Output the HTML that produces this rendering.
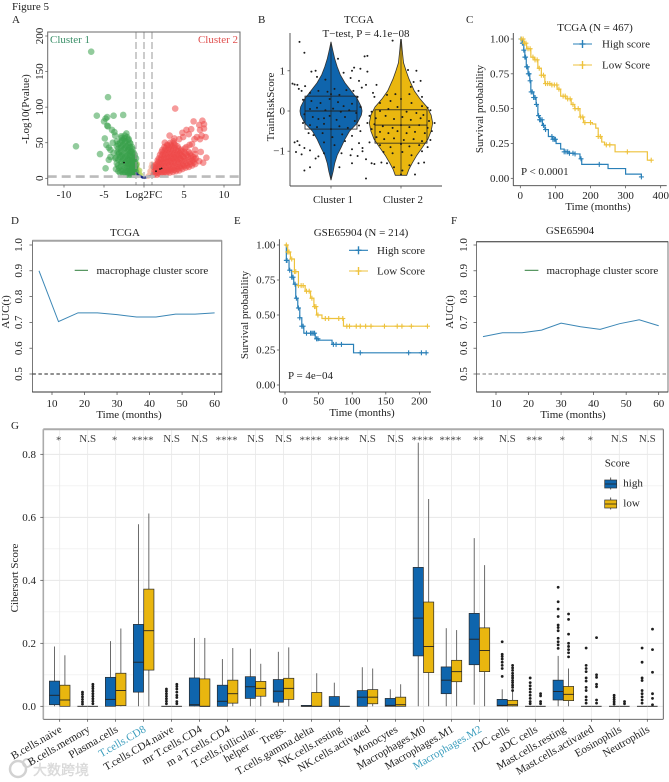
<!DOCTYPE html>
<html lang="en">
<head>
<meta charset="utf-8">
<title>Figure 5</title>
<style>
html,body{margin:0;padding:0;background:#fff;}
svg{display:block;font-family:"Liberation Serif","Noto Serif CJK SC",serif;font-size:11px;fill:#222;filter:blur(0.3px);}
</style>
</head>
<body>
<svg id="fig" xmlns="http://www.w3.org/2000/svg" width="669" height="782" viewBox="0 0 669 782">
<rect x="0" y="0" width="669" height="782" fill="#fff"/>
<text x="12" y="10">Figure 5</text>
<text x="12" y="23">A</text>
<text x="258" y="23">B</text>
<text x="466" y="23">C</text>
<text x="11" y="224">D</text>
<text x="234" y="224">E</text>
<text x="451" y="224">F</text>
<text x="11" y="429">G</text>

<text transform="translate(29,109) rotate(-90)" text-anchor="middle">-Log10(Pvalue)</text>
<text x="50" y="43" font-size="11" fill="#3a8f68">Cluster 1</text>
<text x="238" y="43" font-size="11" fill="#e0504f" text-anchor="end">Cluster 2</text>

<text x="359" y="23" text-anchor="middle">TCGA</text>
<text x="366" y="37" text-anchor="middle">T−test, P = 4.1e−08</text>
<text transform="translate(274,107) rotate(-90)" text-anchor="middle">TrainRiskScore</text>

<text x="595" y="31" text-anchor="middle">TCGA (N = 467)</text>
<text transform="translate(483,109) rotate(-90)" text-anchor="middle">Survival probability</text>
<text x="598" y="210" text-anchor="middle">Time (months)</text>
<text x="521" y="175">P &lt; 0.0001</text>

<text x="125" y="236" text-anchor="middle">TCGA</text>
<text transform="translate(9,312) rotate(-90)" text-anchor="middle">AUC(t)</text>
<text x="129" y="418" text-anchor="middle">Time (months)</text>
<text x="96.5" y="274">macrophage cluster score</text>

<text x="361" y="236" text-anchor="middle">GSE65904 (N = 214)</text>
<text transform="translate(248,315) rotate(-90)" text-anchor="middle">Survival probability</text>
<text x="362" y="416" text-anchor="middle">Time (months)</text>
<text x="288" y="379">P = 4e−04</text>

<text x="570" y="234" text-anchor="middle">GSE65904</text>
<text transform="translate(453,312) rotate(-90)" text-anchor="middle">AUC(t)</text>
<text x="573" y="418" text-anchor="middle">Time (months)</text>
<text x="546.5" y="274">macrophage cluster score</text>

<text transform="translate(18,578) rotate(-90)" text-anchor="middle">Cibersort Score</text>

<g opacity="0.75">
  <circle cx="18" cy="769" r="8" fill="none" stroke="#c4c4c4" stroke-width="2.5"/>
  <circle cx="27" cy="763" r="4" fill="none" stroke="#c4c4c4" stroke-width="2"/>
  <text x="33" y="775" font-size="14" font-family="'Liberation Sans','Noto Sans CJK SC',sans-serif" fill="#d6d6d6" stroke="#bdbdbd" stroke-width="0.3">大数跨境</text>
</g>
<g id="marks"></g>
</svg>
<script>
// ---------- Panel A data: volcano plot (log2FC, -log10 p)
const volcanoGreen = [[-6.6,178],[-4.5,114],[-5.9,88],[-4.8,84],[-4.6,86],[-5.0,80],[-3.8,88],[-2.6,89],[-4.6,74],[-4.5,73],[-4.0,68],[-3.7,65],[-3.6,60],[-4.9,56],[-8.5,45],[-4.7,47],[-4.4,43],[-4.2,40],[-5.5,34],[-3.9,50],[-3.4,52],[-4.4,26],[-4.8,14],[-4.2,30],[-3.8,36],[-3.6,28],
[-3.5,13],[-3.4,21],[-3.5,29],[-3.3,37],[-3.4,45],[-3.0,8],[-3.1,15],[-2.9,23],[-3.0,30],[-3.1,36],[-2.9,43],[-3.0,50],[-2.8,57],[-2.6,6],[-2.7,12],[-2.5,20],[-2.6,27],[-2.7,33],[-2.5,41],[-2.6,47],[-2.7,54],[-2.4,60],[-2.2,5],[-2.3,11],[-2.1,17],[-2.2,24],[-2.3,31],[-2.1,38],[-2.2,45],[-2.3,52],[-2.1,58],[-2.2,63],[-1.9,5],[-2.0,10],[-1.8,16],[-1.9,22],[-2.0,28],[-1.8,35],[-1.9,42],[-1.7,49],[-1.9,55],[-1.6,5],[-1.7,10],[-1.5,15],[-1.6,20],[-1.5,26],[-1.7,32],[-1.6,38],[-1.5,44],[-1.3,5],[-1.4,9],[-1.2,14],[-1.3,19],[-1.4,24],[-1.2,30],[-1.3,36],[-1.1,5],[-1.0,9],[-1.1,13],[-1.0,18],[-1.1,23],[-1.0,28],
[-3.2,10],[-3.25,18],[-3.2,26],[-3.15,34],[-3.2,42],[-3.25,48],[-2.8,10],[-2.85,17],[-2.75,24],[-2.8,31],[-2.85,38],[-2.8,45],[-2.75,52],[-2.85,59],[-2.4,8],[-2.45,15],[-2.35,22],[-2.4,29],[-2.45,36],[-2.35,43],[-2.4,50],[-2.45,56],[-2.0,8],[-2.05,14],[-2.0,20],[-1.95,26],[-2.05,33],[-2.0,40],[-1.95,47],[-2.0,54],[-1.75,8],[-1.8,13],[-1.7,19],[-1.75,25],[-1.8,31],[-1.7,37],[-1.75,44],[-1.8,50],[-1.45,8],[-1.5,12],[-1.4,17],[-1.45,23],[-1.5,29],[-1.4,35],[-1.45,41],[-1.2,7],[-1.25,11],[-1.15,16],[-1.2,21],[-1.25,27],[-1.15,33]];
const volcanoLightGreen = [[-0.9,7],[-0.8,11],[-0.9,15],[-0.85,20],[-0.7,5],[-0.7,9],[-0.6,6],[-0.55,11],[-0.45,5]];
const volcanoRed = [[3.9,98],[6.2,80],[7.3,81],[7.5,76],[6.9,75],[7.0,68],[7.5,70],[5.3,68],[5.9,69],[4.8,64],[5.6,62],[4.9,58],[7.2,60],[7.7,58],[6.6,58],[3.2,60],[3.8,56],[4.4,55],[6.3,55],[7.0,55],[2.6,50],[7.8,29],[7.4,22],[6.9,24],[6.5,28],[7.1,37],[6.4,40],[5.7,47],[6.0,48],[5.3,44],
[1.2,5],[1.3,10],[1.2,16],[1.6,5],[1.7,10],[1.5,15],[1.6,20],[1.7,25],[2.0,6],[2.1,11],[1.9,16],[2.0,22],[2.1,28],[2.0,33],[2.4,6],[2.5,11],[2.3,17],[2.4,23],[2.5,29],[2.4,35],[2.3,40],[2.8,7],[2.9,12],[2.7,18],[2.8,24],[2.9,30],[2.8,36],[2.7,42],[2.9,47],[3.2,8],[3.3,13],[3.1,19],[3.2,25],[3.3,31],[3.2,37],[3.1,43],[3.3,50],[3.6,9],[3.7,15],[3.5,21],[3.6,27],[3.7,33],[3.6,39],[3.5,45],[3.7,52],[4.0,10],[4.1,16],[3.9,22],[4.0,28],[4.1,34],[4.0,40],[3.9,47],[4.4,11],[4.5,17],[4.3,23],[4.4,29],[4.5,35],[4.3,42],[4.8,13],[4.9,19],[4.7,25],[4.8,31],[4.7,38],[5.2,15],[5.3,21],[5.1,28],[5.2,35],[5.1,42],[5.6,16],[5.7,23],[5.5,30],[5.6,37],[6.0,18],[6.1,25],[5.9,32],[6.4,20],[6.3,27],[6.4,34],
[1.4,7],[1.45,13],[1.35,18],[1.8,8],[1.85,13],[1.75,18],[1.8,23],[1.85,28],[2.2,8],[2.25,14],[2.15,20],[2.2,26],[2.25,32],[2.2,37],[2.6,9],[2.65,15],[2.55,21],[2.6,27],[2.65,33],[2.6,39],[2.55,44],[3.0,10],[3.05,16],[2.95,22],[3.0,28],[3.05,34],[3.0,40],[2.95,46],[3.4,11],[3.45,17],[3.35,23],[3.4,29],[3.45,35],[3.4,41],[3.35,47],[3.8,12],[3.85,18],[3.75,24],[3.8,30],[3.85,36],[3.8,43],[3.75,49],[4.2,13],[4.25,20],[4.15,26],[4.2,32],[4.25,38],[4.2,45],[4.6,15],[4.65,21],[4.55,27],[4.6,33],[4.65,40],[5.0,17],[5.05,24],[4.95,30],[5.0,37],[5.4,18],[5.45,25],[5.35,33],[5.8,20],[5.85,28],[5.75,35],[6.2,22],[6.15,30]];
const volcanoPink = [[0.5,3],[0.7,5],[0.8,8],[0.9,12],[0.9,16],[0.75,10],[1.0,20]];
const volcanoBlue = [[-0.95,7],[-0.8,5],[-0.7,4],[-0.55,3.5],[-0.4,2.5],[-0.25,1.5],[-0.1,0.8],[0.05,0.6],[0.2,1.2],[0.35,2],[0.55,2.6],[0.75,3]];
const volcanoBlack = [[-2.5,22],[1.5,10],[2.0,13],[2.2,14]];
const volcanoXTicks = [-10,-5,5,10];
const volcanoYTicks = [0,50,100,150,200];

// ---------- Panel B data: violin plots
const violin1Values = [1.72,1.5,1.3,1.1,0.9,0.7,0.5,0.3,0.1,0,-0.1,-0.3,-0.5,-0.7,-0.9,-1.1,-1.3,-1.5,-1.72];
const violin1Density = [0,0.06,0.12,0.2,0.3,0.45,0.65,0.85,0.98,1,0.98,0.85,0.6,0.45,0.33,0.2,0.12,0.07,0];
const violin2Values = [1.78,1.5,1.2,1.0,0.8,0.5,0.3,0.1,-0.1,-0.3,-0.5,-0.7,-0.9,-1.1,-1.3,-1.45,-1.6];
const violin2Density = [0.01,0.04,0.08,0.16,0.25,0.42,0.6,0.82,0.95,1,0.95,0.85,0.68,0.5,0.35,0.25,0.18];
const violin1Quartiles = [-0.45,0,0.37];
const violin2Quartiles = [-0.8,-0.35,0.03];
const violin1Jitter = [[-0.45,1.72],[-0.38,1.45],[0.1,1.3],[0.52,1.37],[0.48,1.36],[0.42,1.05],[0.33,1.08],[0.3,1.0],[0.18,0.95],[-0.22,1.0],[-0.28,0.98],[-0.2,0.85],[-0.08,0.78],[0.28,0.82],[0.4,0.75],[0.52,0.98],[-0.55,0.68],[-0.52,0.66],[-0.48,0.65],[-0.46,0.55],[-0.42,0.5],[-0.37,0.62],[-0.3,0.45],[-0.18,0.5],[-0.05,0.48],[0.0,0.42],[0.05,0.55],[0.12,0.4],[0.22,0.52],[0.32,0.5],[0.44,0.58],[0.38,0.35],[-0.4,0.28],[-0.28,0.25],[-0.15,0.2],[-0.02,0.3],[0.1,0.22],[0.18,0.12],[0.3,0.18],[0.42,0.1],[-0.3,0.05],[-0.2,0.08],[-0.08,0.02],[0.03,0.06],[0.14,-0.02],[0.26,0.02],[0.36,-0.05],[-0.38,-0.08],[-0.26,-0.15],[-0.18,-0.2],[-0.1,-0.18],[-0.02,-0.12],[0.08,-0.22],[0.2,-0.15],[0.34,-0.25],[-0.4,-0.3],[-0.3,-0.35],[-0.2,-0.4],[-0.1,-0.32],[0.0,-0.45],[0.12,-0.38],[0.24,-0.42],[0.4,-0.36],[-0.32,-0.55],[-0.25,-0.6],[-0.12,-0.55],[0.02,-0.65],[0.16,-0.58],[0.3,-0.62],[0.42,-0.5],[-0.48,-0.75],[-0.52,-0.78],[-0.45,-0.85],[-0.38,-0.92],[-0.3,-0.98],[-0.1,-0.78],[0.05,-0.85],[0.2,-0.75],[0.3,-0.95],[0.4,-0.8],[0.55,-0.78],[0.45,-0.92],[-0.5,-1.02],[-0.42,-1.08],[-0.22,-1.18],[-0.18,-1.13],[-0.1,-1.05],[0.15,-1.05],[0.28,-1.1],[0.38,-1.12],[-0.3,-1.4],[-0.38,-1.48],[0.12,-1.4],[0.3,-1.3],[0.5,-1.68]];
const violin2Jitter = [[-0.12,1.75],[-0.5,0.65],[-0.35,0.65],[-0.4,0.45],[-0.38,0.35],[0.1,1.02],[0.22,1.0],[0.28,0.75],[0.18,0.72],[0.14,0.6],[-0.08,0.42],[-0.2,0.4],[0.12,0.42],[0.25,0.5],[0.3,0.35],[-0.3,0.2],[-0.15,0.25],[0.0,0.3],[0.15,0.2],[0.3,0.12],[0.38,0.08],[0.42,0.02],[-0.42,-0.02],[-0.3,0.0],[-0.18,0.05],[-0.05,0.1],[0.08,-0.02],[0.22,-0.05],[0.32,-0.1],[-0.45,-0.12],[-0.36,-0.18],[-0.22,-0.12],[-0.1,-0.2],[0.02,-0.15],[0.14,-0.22],[0.28,-0.18],[0.4,-0.25],[0.48,-0.3],[-0.48,-0.3],[-0.38,-0.33],[-0.26,-0.38],[-0.12,-0.42],[0.0,-0.35],[0.12,-0.4],[0.26,-0.35],[0.38,-0.42],[-0.42,-0.45],[-0.3,-0.52],[-0.18,-0.55],[-0.05,-0.5],[0.08,-0.55],[0.2,-0.52],[0.34,-0.55],[0.44,-0.5],[-0.35,-0.65],[-0.24,-0.7],[-0.1,-0.68],[0.04,-0.72],[0.18,-0.7],[0.3,-0.75],[0.42,-0.72],[-0.3,-0.85],[-0.15,-0.9],[0.0,-0.82],[0.12,-0.88],[0.26,-0.85],[0.38,-0.9],[-0.25,-1.02],[-0.12,-1.05],[0.02,-1.02],[0.15,-1.1],[0.3,-1.0],[-0.55,-1.0],[-0.5,-1.2],[-0.42,-1.3],[-0.38,-1.32],[-0.28,-1.28],[-0.2,-1.3],[-0.1,-1.4],[0.02,-1.48],[0.12,-1.35],[0.25,-1.3],[0.33,-1.28],[0.2,-1.58],[0.0,-1.58]];
const violinCategories = ["Cluster 1","Cluster 2"];
const violinYTicks = [1,0,-1];
const violinYTickLabels = ["1","0","−1"];

// ---------- Panel C data: survival curves, TCGA
const tcgaHighT = [0,5,10,13,17,22,27,30,38,45,50,55,63,70,80,92,102,115,125,140,155,170,175,225,250,300,345];
const tcgaHighS = [1,0.97,0.92,0.87,0.8,0.75,0.7,0.62,0.58,0.53,0.45,0.42,0.38,0.35,0.3,0.28,0.25,0.21,0.19,0.18,0.175,0.14,0.1,0.1,0.07,0.03,0.01];
const tcgaHighCensor = [2,6,10,13,15,18,20,23,25,28,31,34,38,42,46,52,55,58,62,66,72,90,93,97,100,125,130,135,140,150,156,173,225,345];
const tcgaLowT = [0,10,18,30,40,50,60,70,90,105,115,130,145,155,170,180,205,215,222,232,240,270,360,362,373];
const tcgaLowS = [1,0.97,0.93,0.87,0.85,0.79,0.74,0.68,0.67,0.64,0.59,0.57,0.53,0.5,0.44,0.4,0.39,0.36,0.3,0.26,0.24,0.19,0.19,0.13,0.13];
const tcgaLowCensor = [3,8,12,16,22,28,36,42,48,54,60,66,72,78,84,90,97,104,110,122,128,135,142,150,156,165,172,178,184,200,222,228,245,255,305,373];
const survCXTicks = [0,100,200,300,400];
const survYTicks = [0,0.25,0.5,0.75,1];
const survYTickLabels = ["0.00","0.25","0.50","0.75","1.00"];

// ---------- Panel E data: survival curves, GSE65904
const gseHighT = [0,2,6,10,13,16,19,22,25,28,45,50,70,100,102,212];
const gseHighS = [1,0.89,0.82,0.77,0.72,0.62,0.55,0.48,0.42,0.37,0.33,0.32,0.29,0.29,0.23,0.23];
const gseHighCensor = [2,3,7,10,12,15,17,20,22,25,27,32,38,40,42,44,47,49,72,76,84,112,184,203,210];
const gseLowT = [0,4,8,14,20,30,38,43,47,55,85,87,212];
const gseLowS = [1,0.95,0.9,0.81,0.71,0.67,0.62,0.56,0.5,0.475,0.475,0.42,0.42];
const gseLowCensor = [2,4,6,10,14,16,20,24,27,32,36,40,44,46,49,60,65,80,86,92,96,106,112,120,128,148,167,174,188,212];
const survEXTicks = [0,50,100,150,200];

// ---------- Panels D, F data: time-dependent AUC
const aucTimes = [6,12,18,24,30,36,42,48,54,60];
const aucTcga = [0.9,0.703,0.737,0.737,0.73,0.721,0.721,0.732,0.732,0.737];
const aucGse = [0.645,0.66,0.66,0.67,0.697,0.683,0.673,0.695,0.71,0.687];
const aucXTicks = [10,20,30,40,50,60];
const aucYTicks = [0.5,0.6,0.7,0.8,0.9,1.0];
const aucYTickLabels = ["0.5","0.6","0.7","0.8","0.9","1.0"];
const aucRef = 0.5;

// ---------- Panel G data: immune-cell boxplots
const cellTypes = ["B.cells.naive","B.cells.memory","Plasma.cells","T.cells.CD8","T.cells.CD4.naive","mr T.cells.CD4","m a T.cells.CD4","T.cells.follicular.|helper","Tregs.","T.cells.gamma.delta","NK.cells.resting","NK.cells.activated","Monocytes","Macrophages.M0","Macrophages.M1","Macrophages.M2","rDC cells","aDC cells","Mast.cells.resting","Mast.cells.activated","Eosinophils","Neutrophils"];
const highlightedCells = ["T.cells.CD8","Macrophages.M2"];
const significance = ["*","N.S","*","****","N.S","N.S","****","N.S","N.S","****","****","N.S","N.S","****","****","**","N.S","***","*","*","N.S","N.S"];
// each entry: [whisker-low, q1, median, q3, whisker-high]
const boxHigh = [[0,0.005,0.035,0.08,0.19],[0,0,0,0,0],[0,0,0.022,0.092,0.207],[0,0.045,0.14,0.26,0.578],[0,0,0,0,0],[0,0.001,0.005,0.09,0.217],[0,0,0.016,0.067,0.15],[0,0.025,0.062,0.094,0.183],[0,0.013,0.048,0.085,0.173],[0,0,0,0.003,0.003],[0,0,0,0.031,0.075],[0,0,0.029,0.05,0.124],[0,0,0.003,0.025,0.054],[0,0.16,0.28,0.441,0.837],[0,0.04,0.083,0.125,0.248],[0.005,0.132,0.213,0.295,0.534],[0,0.001,0.003,0.022,0.054],[0,0,0,0,0],[0,0.02,0.047,0.083,0.16],[0,0,0,0,0],[0,0,0,0,0],[0,0,0,0,0]];
const boxLow = [[0,0,0.02,0.067,0.162],[0,0,0,0,0],[0,0.002,0.05,0.105,0.247],[0,0.115,0.24,0.372,0.612],[0,0,0,0,0],[0,0,0,0.087,0.217],[0,0.01,0.04,0.083,0.185],[0,0.032,0.057,0.079,0.135],[0,0.022,0.057,0.089,0.187],[0,0,0,0.044,0.105],[0,0,0,0,0],[0,0.008,0.029,0.053,0.12],[0,0,0.005,0.029,0.07],[0,0.107,0.19,0.331,0.658],[0,0.078,0.11,0.146,0.242],[0,0.11,0.177,0.249,0.448],[0,0.001,0.005,0.019,0.05],[0,0,0,0,0],[0,0.018,0.038,0.063,0.12],[0,0,0,0,0],[0,0,0,0,0],[0,0,0,0,0]];
const outliersHigh = [[],[0.045,0.038,0.03,0.022,0.014,0.007],[],[],[0.055,0.048,0.04,0.032,0.024,0.016,0.008],[],[],[],[],[],[],[],[],[],[],[],[0.205,0.165,0.158,0.15,0.14,0.13,0.12,0.095],[0.09,0.075,0.065,0.055,0.045,0.035,0.025,0.015,0.008],[0.378,0.332,0.309,0.285,0.258,0.25,0.24,0.216,0.205,0.195,0.184],[0.185,0.13,0.12,0.11,0.09,0.08,0.06,0.05,0.03,0.02,0.01],[0.035,0.028,0.021,0.014,0.007],[0.185,0.14,0.09,0.082,0.05,0.04,0.03,0.02,0.01]];
const outliersLow = [[],[0.07,0.063,0.056,0.048,0.04,0.032,0.024,0.016,0.008],[],[],[0.07,0.063,0.055,0.045,0.035,0.028,0.015,0.008],[],[],[],[],[],[],[],[],[],[],[],[0.13,0.122,0.114,0.105,0.097,0.09,0.082,0.075,0.067,0.06,0.05],[0.04,0.033,0.015,0.008],[0.293,0.276,0.229,0.2,0.19,0.18,0.17,0.157],[0.218,0.1,0.092,0.07,0.062,0.02,0.01],[0.015,0.008],[0.245,0.18,0.108,0.04,0.025,0.005]];
const boxYTicks = [0,0.2,0.4,0.6,0.8];
const boxYTickLabels = ["0.0","0.2","0.4","0.6","0.8"];
const boxYMinor = [0.1,0.3,0.5,0.7];

// ---------- helpers
const NS = 'http://www.w3.org/2000/svg';
const root = document.getElementById('marks');
function linear(d0, d1, r0, r1) {
  return v => r0 + (v - d0) * (r1 - r0) / (d1 - d0);
}
function mk(tag, attrs, name) {
  const el = document.createElementNS(NS, tag);
  for (const k in attrs) el.setAttributeNS(null, k, attrs[k]);
  
  
  root.appendChild(el);
  return el;
}
function line(x1, y1, x2, y2, stroke, w, name, dash) {
  const a = {x1, y1, x2, y2, stroke, 'stroke-width': w};
  if (dash) a['stroke-dasharray'] = dash;
  return mk('line', a, name);
}
function label(x, y, str, anchor, name, extra) {
  const t = mk('text', Object.assign({x, y, 'text-anchor': anchor}, extra || {}), name);
  t.textContent = str;
  return t;
}
function polyPath(xs, ys, sx, sy) {
  return xs.map((x, i) => (i ? 'L' : 'M') + sx(x).toFixed(2) + ' ' + sy(ys[i]).toFixed(2)).join('');
}
function stepPath(xs, ys, sx, sy) {
  let d = 'M' + sx(xs[0]).toFixed(2) + ' ' + sy(ys[0]).toFixed(2);
  for (let i = 1; i < xs.length; i++) {
    d += 'H' + sx(xs[i]).toFixed(2) + 'V' + sy(ys[i]).toFixed(2);
  }
  return d;
}
function stepAt(xs, ys, t) {
  let v = ys[0];
  for (let i = 0; i < xs.length; i++) { if (xs[i] <= t) v = ys[i]; }
  return v;
}

// ---------- Panel A: volcano
(function () {
  const L = 47.7, R = 240, T = 32, B = 185;
  const sx = linear(-10, 10, 64, 224);
  const sy = linear(0, 200, 178.3, 36);
  function dots(arr, r, fill, op, name) {
    arr.forEach(p => mk('circle', {cx: sx(p[0]).toFixed(2), cy: sy(p[1]).toFixed(2), r, fill, 'fill-opacity': op}, name));
  }
  dots(volcanoLightGreen, 2.8, '#b9d76a', 0.8, 'volcano-point-near-left');
  dots(volcanoGreen, 3.3, '#39a04a', 0.55, 'volcano-point-cluster-1');
  dots(volcanoPink, 2.8, '#f6b9a8', 0.8, 'volcano-point-near-right');
  dots(volcanoRed, 3.3, '#ee4848', 0.55, 'volcano-point-cluster-2');
  dots(volcanoBlue, 1.2, '#1a2a8a', 1, 'volcano-point-not-significant');
  dots(volcanoBlack, 0.9, '#111', 1, 'volcano-point-labelled');
  [-1, 0, 1].forEach(v => line(sx(v), T, sx(v), B, '#999', 1, 'volcano-fold-change-threshold', '7 3'));
  line(L, sy(2.4), R, sy(2.4), '#bbb', 2.6, 'volcano-pvalue-threshold', '9 5');
  mk('rect', {x: L, y: T, width: R - L, height: B - T, fill: 'none', stroke: '#6a6a6a', 'stroke-width': 1}, 'volcano-plot-frame');
  volcanoXTicks.forEach(v => {
    line(sx(v), B, sx(v), B + 2.5, '#555', 0.7, 'volcano-x-tick');
    label(sx(v), 198, String(v), 'middle', 'volcano-x-tick-label');
  });
  line(sx(0), B, sx(0), B + 2.5, '#555', 0.7, 'volcano-x-tick');
  label(sx(0), 198, 'Log2FC', 'middle', 'volcano-x-axis-title');
  volcanoYTicks.forEach(v => {
    line(L - 2.5, sy(v), L, sy(v), '#555', 0.7, 'volcano-y-tick');
    label(0, 0, String(v), 'middle', 'volcano-y-tick-label', {transform: 'translate(43,' + sy(v).toFixed(2) + ') rotate(-90)'});
  });
})();

// ---------- Panel B: violins
(function () {
  const sx = linear(0, 1, 331, 401);
  const sy = linear(0, 1, 111, 70.8);
  function violin(cat, vals, dens, maxW, q, jitter, fill, id) {
    const c = sx(cat);
    let d = '';
    vals.forEach((v, i) => { d += (i ? 'L' : 'M') + (c - dens[i] * maxW).toFixed(2) + ' ' + sy(v).toFixed(2); });
    for (let i = vals.length - 1; i >= 0; i--) { d += 'L' + (c + dens[i] * maxW).toFixed(2) + ' ' + sy(vals[i]).toFixed(2); }
    mk('path', {d: d + 'Z', fill, stroke: '#333', 'stroke-width': 0.8}, 'violin-' + id);
    line(c, sy(vals[0]), c, sy(vals[vals.length - 1]), '#222', 0.7, 'violin-whisker-' + id);
    mk('rect', {x: c - 26, y: sy(q[2]), width: 52, height: sy(q[0]) - sy(q[2]), fill: 'none', stroke: '#222', 'stroke-width': 0.8}, 'violin-box-' + id);
    line(c - 26, sy(q[1]), c + 26, sy(q[1]), '#222', 0.9, 'violin-median-' + id);
    jitter.forEach(p => mk('circle', {cx: sx(cat + p[0]).toFixed(2), cy: sy(p[1]).toFixed(2), r: 1, fill: '#1c1c1c'}, 'violin-point-' + id));
  }
  violin(0, violin1Values, violin1Density, 31, violin1Quartiles, violin1Jitter, '#0f65ad', 'cluster-1');
  violin(1, violin2Values, violin2Density, 31.7, violin2Quartiles, violin2Jitter, '#eab70f', 'cluster-2');
  line(290, 33, 290, 186, '#444', 0.9, 'violin-y-axis');
  line(290, 186, 442, 186, '#444', 0.9, 'violin-x-axis');
  violinYTicks.forEach((v, i) => {
    line(287.5, sy(v), 290, sy(v), '#444', 0.7, 'violin-y-tick');
    label(285, sy(v) + 3.5, violinYTickLabels[i], 'end', 'violin-y-tick-label');
  });
  violinCategories.forEach((c, i) => {
    line(sx(i), 186, sx(i), 188.5, '#444', 0.7, 'violin-x-tick');
    label(sx(i) + 2, 203, c, 'middle', 'violin-x-tick-label');
  });
})();

// ---------- KM panels
function survival(o) {
  o.series.forEach(s => {
    mk('path', {d: stepPath(s.t, s.s, o.sx, o.sy), fill: 'none', stroke: s.color, 'stroke-width': 1.2}, o.id + '-curve-' + s.key);
    s.censor.forEach(t => {
      const cx = o.sx(t), cy = o.sy(stepAt(s.t, s.s, t));
      line(cx - 2.5, cy, cx + 2.5, cy, s.color, 1.1, o.id + '-censor-h-' + s.key);
      line(cx, cy - 2.5, cx, cy + 2.5, s.color, 1.1, o.id + '-censor-v-' + s.key);
    });
  });
  line(o.L, o.T, o.L, o.B, '#444', 0.9, o.id + '-y-axis');
  line(o.L, o.B, o.R, o.B, '#444', 0.9, o.id + '-x-axis');
  o.xticks.forEach(v => {
    line(o.sx(v), o.B, o.sx(v), o.B + 2.5, '#444', 0.7, o.id + '-x-tick');
    label(o.sx(v), o.xLabelY, String(v), 'middle', o.id + '-x-tick-label');
  });
  survYTicks.forEach((v, i) => {
    line(o.L - 2.5, o.sy(v), o.L, o.sy(v), '#444', 0.7, o.id + '-y-tick');
    label(o.L - 4, o.sy(v) + 3.5, survYTickLabels[i], 'end', o.id + '-y-tick-label');
  });
  o.series.forEach((s, i) => {
    const y = o.legendY[i], a = o.legendX[0], b = o.legendX[1], m = (a + b) / 2;
    line(a, y, b, y, s.color, 1.1, o.id + '-legend-key-' + s.key);
    line(m - 3, y, m + 3, y, s.color, 1.4, o.id + '-legend-key-' + s.key);
    line(m, y - 4, m, y + 4, s.color, 1.4, o.id + '-legend-key-' + s.key);
    label(o.legendX[2], y + 3.5, s.label, 'start', o.id + '-legend-label-' + s.key);
  });
}
survival({
  id: 'survival-c', L: 513.3, R: 666.7, T: 33, B: 185.7, xLabelY: 199,
  sx: linear(0, 400, 520.3, 660.7), sy: linear(0, 1, 178.3, 39),
  xticks: survCXTicks, legendY: [44, 65], legendX: [573, 592, 602],
  series: [
    {key: 'high', label: 'High score', color: '#2a80b8', t: tcgaHighT, s: tcgaHighS, censor: tcgaHighCensor},
    {key: 'low', label: 'Low Score', color: '#eec23c', t: tcgaLowT, s: tcgaLowS, censor: tcgaLowCensor}
  ]
});
survival({
  id: 'survival-e', L: 279.4, R: 431, T: 239.3, B: 392, xLabelY: 404.5,
  sx: linear(0, 200, 285, 419.4), sy: linear(0, 1, 385, 245),
  xticks: survEXTicks, legendY: [250.3, 271], legendX: [349, 368, 377],
  series: [
    {key: 'high', label: 'High score', color: '#2a80b8', t: gseHighT, s: gseHighS, censor: gseHighCensor},
    {key: 'low', label: 'Low Score', color: '#eec23c', t: gseLowT, s: gseLowS, censor: gseLowCensor}
  ]
});

// ---------- AUC panels
function auc(o) {
  const sx = linear(10, 60, o.x10, o.x60);
  const sy = linear(0.5, 1, 374, 245);
  line(o.L, sy(aucRef), o.R, sy(aucRef), o.refColor, 0.9, o.id + '-reference-line', '3.5 2.5');
  mk('path', {d: polyPath(aucTimes, o.values, sx, sy), fill: 'none', stroke: '#3b86b5', 'stroke-width': 1}, o.id + '-curve');
  mk('rect', {x: o.L, y: o.T, width: o.R - o.L, height: 392 - o.T, fill: 'none', stroke: '#555', 'stroke-width': 0.8}, o.id + '-plot-frame');
  line(o.L, o.T, o.R, o.T, o.topColor, o.topW, o.id + '-top-border');
  line(o.L, 392, o.R, 392, '#333', 1, o.id + '-x-axis');
  aucXTicks.forEach(v => {
    line(sx(v), 392, sx(v), 395, '#444', 0.7, o.id + '-x-tick');
    label(sx(v), 407, String(v), 'middle', o.id + '-x-tick-label');
  });
  aucYTicks.forEach((v, i) => {
    line(o.L - 3, sy(v), o.L, sy(v), '#444', 0.7, o.id + '-y-tick');
    label(0, 0, aucYTickLabels[i], 'middle', o.id + '-y-tick-label', {transform: 'translate(' + o.tickX + ',' + sy(v).toFixed(2) + ') rotate(-90)'});
  });
  line(o.legend[0], 270.3, o.legend[1], 270.3, '#2e7d3a', 1, o.id + '-legend-key');
}
auc({id: 'auc-d', L: 32.4, R: 221.8, T: 240.7, x10: 52, x60: 214.6, values: aucTcga, refColor: '#222', topColor: '#a3a3a3', topW: 2, tickX: 22, legend: [74.7, 88]});
auc({id: 'auc-f', L: 476.5, R: 668, T: 241.7, x10: 496, x60: 658.7, values: aucGse, refColor: '#777', topColor: '#444', topW: 1, tickX: 467, legend: [524.7, 538.4]});

// ---------- Panel G: boxplots
(function () {
  const L = 43.3, R = 663.3, T = 429.3, B = 719.3;
  const sy = linear(0, 0.8, 706.3, 454.3);
  const sx = i => linear(0, 21, 59.7, 647.3)(i);
  const w = 10.2, dodge = 5.2;
  mk('rect', {x: L, y: T, width: R - L, height: B - T, fill: '#fff', stroke: 'none'}, 'boxplot-panel');
  boxYMinor.forEach(v => line(L, sy(v), R, sy(v), '#f1f1f1', 0.8, 'boxplot-minor-gridline'));
  boxYTicks.forEach(v => line(L, sy(v), R, sy(v), '#e4e4e4', 0.8, 'boxplot-major-gridline'));
  cellTypes.forEach((c, i) => line(sx(i), T, sx(i), B, '#e8e8e8', 0.8, 'boxplot-vertical-gridline'));
  function drawBox(cx, b, fill, name) {
    const x = cx - w / 2;
    line(cx, sy(b[0]), cx, sy(b[4]), '#5a5a5a', 0.9, 'whisker-' + name);
    if (b[3] === b[1]) {
      line(x, sy(b[2]), x + w, sy(b[2]), '#222', 0.9, 'median-' + name);
    } else {
      mk('rect', {x, y: sy(b[3]), width: w, height: sy(b[1]) - sy(b[3]), fill, stroke: '#2a2a2a', 'stroke-width': 0.7}, 'box-' + name);
      line(x, sy(b[2]), x + w, sy(b[2]), '#222', 0.9, 'median-' + name);
    }
  }
  cellTypes.forEach((c, i) => {
    const key = c.split('|')[0].replace(/[ .]+/g, '-').replace(/-$/, '').toLowerCase();
    drawBox(sx(i) - dodge, boxHigh[i], '#0f65ad', key + '-high');
    drawBox(sx(i) + dodge, boxLow[i], '#e9b60f', key + '-low');
    outliersHigh[i].forEach(v => mk('circle', {cx: sx(i) - dodge, cy: sy(v).toFixed(2), r: 1.4, fill: '#1e1e1e'}, 'outlier-' + key + '-high'));
    outliersLow[i].forEach(v => mk('circle', {cx: sx(i) + dodge, cy: sy(v).toFixed(2), r: 1.4, fill: '#1e1e1e'}, 'outlier-' + key + '-low'));
    const sig = significance[i];
    label(sx(i) - (sig === 'N.S' ? 0 : 1), sig === 'N.S' ? 442 : 443.5, sig, 'middle', 'significance-' + key, {fill: '#444', 'font-size': 11});
    line(sx(i), B, sx(i), B + 2.5, '#444', 0.7, 'x-tick-' + key);
    const parts = c.split('|');
    const hl = highlightedCells.indexOf(c) >= 0;
    const tr = 'translate(' + (sx(i) + 3).toFixed(2) + ',' + (B + 12) + ') rotate(-30)';
    parts.forEach((p, j) => {
      label(j ? -16 : 0, j ? 11 : 0, p, 'end', 'x-tick-label-' + key, {transform: tr, fill: hl ? '#3a9dbd' : '#222'});
    });
  });
  line(L, T, R, T, '#ababab', 2, 'boxplot-top-border');
  line(L, T, L, B, '#ababab', 1.6, 'boxplot-left-border');
  line(L, B, R, B, '#555', 0.9, 'boxplot-bottom-border');
  line(R, T, R, B, '#555', 0.9, 'boxplot-right-border');
  boxYTicks.forEach((v, i) => {
    line(L - 3, sy(v), L, sy(v), '#444', 0.7, 'boxplot-y-tick');
    label(36, sy(v) + 3.5, boxYTickLabels[i], 'end', 'boxplot-y-tick-label');
  });
  // legend
  label(604.7, 466.7, 'Score', 'start', 'legend-title');
  [['high', '#0f65ad', 478.5, 486.7], ['low', '#e9b60f', 498.5, 506.7]].forEach(k => {
    const y = k[2];
    line(610.7, y - 1, 610.7, y + 11, '#333', 0.8, 'legend-key-stem-' + k[0]);
    mk('rect', {x: 604.7, y: y + 1.5, width: 12, height: 8, fill: k[1], stroke: '#333', 'stroke-width': 0.7}, 'legend-key-' + k[0]);
    line(604.7, y + 5.5, 616.7, y + 5.5, '#222', 0.8, 'legend-key-median-' + k[0]);
    label(623.3, k[3], k[0], 'start', 'legend-label-' + k[0]);
  });
})();
</script>
</body>
</html>
